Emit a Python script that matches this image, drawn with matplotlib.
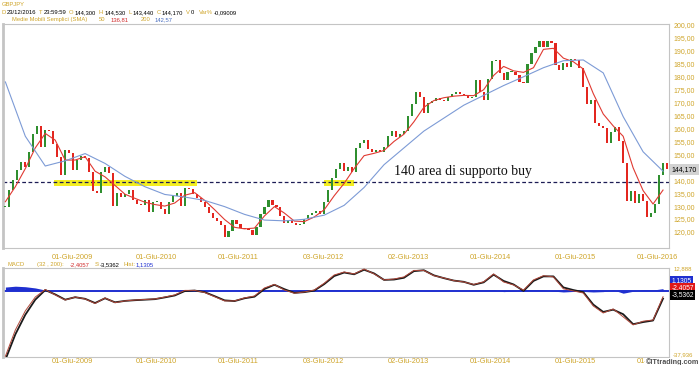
import numpy as np
import matplotlib
matplotlib.use("Agg")
import matplotlib.pyplot as plt

plt.rcParams['font.family'] = ['Liberation Sans', 'DejaVu Sans']

# GBPJPY closes, one every ~2.5 weeks
closes = [129.8, 136.2, 140, 144, 147, 145, 151, 158, 161, 153,
          159.4, 159, 154, 149.1, 142, 151.7, 150.5, 144, 147.8, 149.5,
          148.5, 143, 136, 135, 143, 145.2, 142.8, 130, 135.1, 133.6,
          134.5, 136.2, 132.4, 131, 130.5, 132.4, 127.8, 131.5, 131.5, 129,
          127, 131.7, 134, 135.1, 130, 137, 136.5, 134.5, 133, 131.5,
          129.8, 127.5, 125.5, 124.2, 122.5, 118.2, 120.5, 124.5, 123, 121.4,
          121.2, 120.8, 118.8, 122, 127, 129.8, 132.4, 130.6, 129.5, 126,
          123.5, 124.6, 123.5, 122.5, 123, 125, 126.6, 127.2, 128, 127,
          131.7, 136.2, 141, 144.5, 146.6, 143.5, 145, 143, 152.5, 154.5,
          155.5, 152, 151, 151.5, 151, 153, 157, 159, 156.8, 157.7,
          159, 165, 169.5, 174.2, 172, 166, 169.8, 170.8, 171.8, 171,
          170.8, 172.3, 173.3, 174, 173.5, 173, 171.7, 172, 178.8, 174,
          171, 179, 186, 186.5, 181.5, 178.8, 182, 182, 180.5, 178,
          177.5, 185, 189.3, 191.6, 194, 191.5, 194, 193, 184.5, 182.5,
          185.2, 183.9, 187, 186.5, 183.5, 176.2, 169.5, 171, 162, 161,
          160, 154.3, 158.5, 160.5, 155, 146.6, 132, 136, 131.1, 134.5,
          132, 125.9, 127.5, 131, 142, 146.6, 144.17]

# SMA 50 (red), one value every 2.5 bars
sma50 = [131.7, 137.5, 144.5, 152.5, 158.1, 155.5, 147.8, 147.8, 149.1, 143.5,
         141.3, 138, 134.6, 133, 131.5, 130.6, 130, 131.2, 134.2, 135.2,
         132.2, 128.6, 124.8, 121.8, 121.2, 121.5, 126.2, 129.8, 127.3, 124.2,
         124, 125.8, 128.6, 134, 138.8, 144.5, 149.5, 150.4, 151.5, 155,
         157.8, 162.6, 168.2, 170.8, 171.9, 172.5, 172.8, 172.7, 175, 180.5,
         184, 182.3, 181.7, 183.5, 190.6, 191, 187.2, 185.8, 183, 173.5,
         165.6, 161, 157, 144.8, 136, 130.8, 136.2]

# SMA 200 (blue), one value every 5 bars
sma200 = [178, 157, 145.5, 147.5, 150.3, 146.5, 141.5, 137.5, 134.5, 133.5,
          132.2, 129.8, 126.8, 124.6, 124.3, 124.9, 126.5, 130.3, 137.2, 146,
          152.5, 159, 164, 169, 172.8, 176.6, 180, 183.5, 186.2, 186.5,
          181.5, 164.6, 151, 143.5]

# MACD (32, 200) and histogram, one value every 2.5 bars
macd = [-37.5, -22.5, -11.6, -3.7, 0.6, -2.5, -5.4, -3.7, -4.8, -7.4,
        -4.2, -6.9, -5.9, -5.4, -5.1, -4.8, -3.7, -2.5, 0.1, 0.1,
        -1.1, -3.5, -5.9, -5.9, -4.2, -3.1, 1.5, 3.5, 0.3, -1.5,
        -0.8, 0.3, 4.2, 8.9, 10.6, 9.5, 12.3, 9.5, 6.1, 6.6,
        7.8, 11.5, 11.5, 8.5, 7.2, 5.7, 4.9, 3.5, 5.0, 9.5,
        4.9, 3.2, 0.3, 6.1, 8.5, 7.8, 1.0, -0.2, -1.4, -8.8,
        -12.8, -10.5, -15, -19.6, -17.5, -16.8, -3.5]
hist = [2.0, 2.5, 2.2, 1.5, 0.3, -0.3, -0.2, 0.1, -0.1, -0.3,
        0.2, -0.2, 0.0, 0.1, 0.1, 0.1, 0.2, 0.3, 0.4, 0.1,
        -0.2, -0.3, -0.3, 0.1, 0.2, 0.4, 0.6, 0.2, -0.5, -0.2,
        0.1, 0.3, 0.5, 0.6, 0.3, 0.2, 0.4, -0.3, 0.0, 0.3,
        0.5, 0.4, -0.1, -0.2, 0.1, 0.0, -0.1, 0.2, 0.3, 0.4,
        -0.6, -0.3, 0.5, 0.6, 0.4, -0.3, -0.8, -0.5, -0.5, -0.8,
        -0.6, 0.4, -1.5, -0.4, 0.5, 0.3, 1.1]

date_labels = ['01-Giu-2009', '01-Giu-2010', '01-Giu-2011', '03-Giu-2012',
               '02-Giu-2013', '01-Giu-2014', '01-Giu-2015', '01-Giu-2016']
date_pos = [16.75, 38, 58.5, 79.75, 101, 121.75, 143, 163.5]

price_ticks = np.arange(120, 201, 5)

GOLD = '#cfa52a'
GRAY = '#c4c4c4'
W, H = 700, 365
HDR = 4.2  # header font size

closes = np.array(closes)
opens = np.r_[closes[0], closes[:-1]]
x = np.arange(len(closes))
x50 = np.arange(len(sma50)) * 2.5
x200 = np.arange(len(sma200)) * 5.0
xm = np.arange(len(macd)) * 2.5
macd = np.array(macd)
hist = np.array(hist)
signal = macd - hist

fig = plt.figure(figsize=(7, 3.65), dpi=100)
rend = fig.canvas.get_renderer()


def box(px, py, pw, ph):
    return [px / W, 1 - (py + ph) / H, pw / W, ph / H]


def ftext(px, py, s, color):
    return fig.text(px / W, 1 - py / H, s, color=color, fontsize=HDR, va='center', ha='left')


def line_of_text(px, py, parts):
    # parts: (text, colour, gap after in px)
    for s, c, g in parts:
        t = ftext(px, py, s, c)
        px += t.get_window_extent(rend).width + g


def frame(a):
    for s in a.spines.values():
        s.set_color(GRAY)
        s.set_linewidth(0.8)
    a.spines['left'].set_linewidth(2)
    a.tick_params(length=0)


# ---------------- price panel
ax = fig.add_axes(box(3, 24, 666, 224))
frame(ax)
up = closes >= opens
body = np.abs(closes - opens)
body = np.where(body < 0.4, 0.4, body)
ax.bar(x[up], body[up], bottom=np.minimum(opens, closes)[up], width=0.55, color='#2f8f2f', zorder=3)
ax.bar(x[~up], body[~up], bottom=np.minimum(opens, closes)[~up], width=0.55, color='#e3261f', zorder=3)
ax.plot(x50, sma50, color='#e03a32', lw=0.8, zorder=4)
ax.plot(x200, sma200, color='#7d9bd6', lw=0.8, zorder=4)

ax.fill_between([12.25, 48], 137.9, 140.1, color='#f4ee20', lw=0, zorder=1)
ax.fill_between([80, 87.5], 137.9, 140.1, color='#f4ee20', lw=0, zorder=1)
ax.axhline(139.3, color='#1c1c55', lw=0.9, ls=(0, (3, 2)), zorder=2)
ax.text(97.5, 142, '140 area di supporto buy', family='Liberation Serif', fontsize=10,
        va='baseline', color='#111111', zorder=5)

ax.set_xlim(-0.6, 166.5)
ax.set_ylim(113.8, 200.4)
ax.yaxis.tick_right()
ax.set_yticks(price_ticks)
# 145,00 sits under the last-price tag in the original, so it is left blank
ax.set_yticklabels(['' if v == 145 else f'{v:.2f}'.replace('.', ',') for v in price_ticks])
ax.tick_params(axis='y', labelsize=5, labelcolor=GOLD, pad=3)
ax.set_xticks(date_pos)
ax.set_xticklabels(date_labels)
ax.tick_params(axis='x', labelsize=5.3, labelcolor=GOLD, pad=4)

ax.annotate('144,170', xy=(1.004, 144.17), xycoords=('axes fraction', 'data'),
            fontsize=5, va='center', ha='left', color='black',
            bbox=dict(boxstyle='square,pad=0.3', fc='#d2d2d2', ec='none'))

# ---------------- MACD panel
ax2 = fig.add_axes(box(3, 268, 666, 89))
frame(ax2)
ax2.fill_between(xm, 0, hist, color='#1f2fd0', lw=0, zorder=2)
ax2.axhline(0, color='#1f2fd0', lw=1.4, zorder=2)
ax2.plot(xm, signal, color='#1a1a1a', lw=1.3, zorder=3)
ax2.plot(xm, macd, color='#b0483a', lw=0.7, zorder=4)
ax2.set_xlim(-0.6, 166.5)
ax2.set_ylim(-37.936, 12.888)
ax2.yaxis.tick_right()
ax2.set_yticks([12.888, -37.936])
ax2.set_yticklabels(['12,888', '-37,936'])
ax2.tick_params(axis='y', labelsize=4.3, labelcolor=GOLD, pad=3)
ax2.get_yticklabels()[1].set_va('bottom')
ax2.set_xticks(date_pos)
ax2.set_xticklabels(date_labels)
ax2.tick_params(axis='x', labelsize=5.3, labelcolor=GOLD, pad=1)

for fy, s, c in [(0.86, '1,1305', '#1f2fd0'), (0.78, '-2,4057', '#e01818'), (0.70, '-3,5362', '#000000')]:
    ax2.annotate(s, xy=(1.004, fy), xycoords='axes fraction', fontsize=4.8, va='center', ha='left',
                 color='white', bbox=dict(boxstyle='square,pad=0.2', fc=c, ec='none'))

fig.text(1 - 1 / W, 1 - 362 / H, '\u00a9ITtrading.com', fontsize=5.2, ha='right', va='center',
         color='#505050', fontweight='bold', bbox=dict(fc='white', ec='none', pad=0.3))

# ---------------- header texts
ftext(2, 4, 'GBPJPY', GOLD)
line_of_text(1, 12.5, [('D', GOLD, 1), ('23/12/2016', 'k', 3), ('T', GOLD, 1), ('23:59:59', 'k', 3),
                       ('O', GOLD, 1), ('144,300', 'k', 3), ('H', GOLD, 1), ('144,530', 'k', 3),
                       ('L', GOLD, 1), ('143,440', 'k', 3), ('C', GOLD, 1), ('144,170', 'k', 3),
                       ('V', GOLD, 1), ('0', 'k', 4), ('Var%', GOLD, 1.5), ('-0,09009', 'k', 0)])
line_of_text(12, 19.5, [('Medie Mobili Semplici (SMA)', GOLD, 12), ('50', GOLD, 5),
                        ('136,81', '#d02a2a', 12), ('200', GOLD, 4), ('142,57', '#4a6fc0', 0)])
for px, s, c in [(7, 'MACD', GOLD), (37, '(32 , 200):', GOLD), (70, '-2,4057', '#d02a2a'),
                 (95, 'S:', GOLD), (100, '-3,5362', 'k'), (123, 'Hist:', GOLD), (136, '1,1305', '#1f2fd0')]:
    ftext(px, 264.5, s, c)

fig.savefig('out.png', dpi=100)
